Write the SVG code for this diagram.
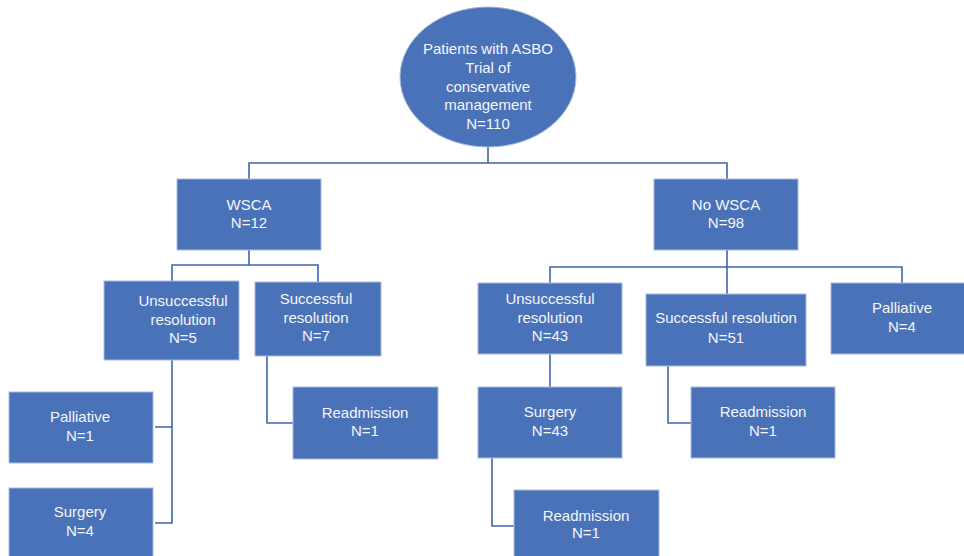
<svg xmlns="http://www.w3.org/2000/svg" width="964" height="556" viewBox="0 0 964 556">
<style>
.box{fill:#4A72B8;stroke:#A9BCE0;stroke-width:1}
.t{font-family:"Liberation Sans",Arial,sans-serif;font-size:15px;fill:#F4F6FB;text-anchor:middle}
.c{fill:none;stroke:#3F65AE;stroke-width:1.6}
</style>
<rect width="964" height="556" fill="#FFFFFF"/>
<g id="connectors">
<path class="c" d="M488,147 V163 M249,179 V163 H727 V179"/>
<path class="c" d="M249,250 V265 M172,281 V265 H318 V282"/>
<path class="c" d="M172,360 V523 H155 M172,427 H155"/>
<path class="c" d="M267,356 V423 H293"/>
<path class="c" d="M727,250 V294 M550,283 V267 H902 V283"/>
<path class="c" d="M550,354 V387"/>
<path class="c" d="M492,458 V526 H514"/>
<path class="c" d="M668,366 V423 H691"/>
</g>
<g id="root">
<ellipse class="box" cx="488" cy="77" rx="88" ry="70"/>
<text class="t" x="488" y="54">Patients with ASBO</text>
<text class="t" x="488" y="73">Trial of</text>
<text class="t" x="488" y="91.5">conservative</text>
<text class="t" x="488" y="110">management</text>
<text class="t" x="488" y="128.5">N=110</text>
</g>
<g id="wsca">
<rect class="box" x="177" y="179" width="144" height="71"/>
<text class="t" x="249" y="210">WSCA</text>
<text class="t" x="249" y="228">N=12</text>
</g>
<g id="nowsca">
<rect class="box" x="654" y="179" width="144" height="71"/>
<text class="t" x="726" y="210">No WSCA</text>
<text class="t" x="726" y="228">N=98</text>
</g>
<g id="unsucc5">
<rect class="box" x="104" y="281" width="135" height="79"/>
<text class="t" x="183" y="306">Unsuccessful</text>
<text class="t" x="183" y="324.5">resolution</text>
<text class="t" x="183" y="343">N=5</text>
</g>
<g id="succ7">
<rect class="box" x="255" y="282" width="126" height="74"/>
<text class="t" x="316" y="304">Successful</text>
<text class="t" x="316" y="323">resolution</text>
<text class="t" x="316" y="341">N=7</text>
</g>
<g id="pall1">
<rect class="box" x="9" y="392" width="144" height="71"/>
<text class="t" x="80" y="422">Palliative</text>
<text class="t" x="80" y="441">N=1</text>
</g>
<g id="surg4">
<rect class="box" x="9" y="488" width="144" height="72"/>
<text class="t" x="80" y="517">Surgery</text>
<text class="t" x="80" y="536">N=4</text>
</g>
<g id="readm1">
<rect class="box" x="293" y="387" width="145" height="72"/>
<text class="t" x="365" y="418">Readmission</text>
<text class="t" x="365" y="436">N=1</text>
</g>
<g id="unsucc43">
<rect class="box" x="478" y="283" width="144" height="71"/>
<text class="t" x="550" y="304">Unsuccessful</text>
<text class="t" x="550" y="323">resolution</text>
<text class="t" x="550" y="341">N=43</text>
</g>
<g id="succ51">
<rect class="box" x="646" y="294" width="160" height="72"/>
<text class="t" x="726" y="323">Successful resolution</text>
<text class="t" x="726" y="343">N=51</text>
</g>
<g id="pall4">
<rect class="box" x="831" y="283" width="140" height="71"/>
<text class="t" x="902" y="313">Palliative</text>
<text class="t" x="902" y="332">N=4</text>
</g>
<g id="surg43">
<rect class="box" x="478" y="387" width="144" height="71"/>
<text class="t" x="550" y="417">Surgery</text>
<text class="t" x="550" y="436">N=43</text>
</g>
<g id="readm2">
<rect class="box" x="691" y="387" width="144" height="71"/>
<text class="t" x="763" y="417">Readmission</text>
<text class="t" x="763" y="436">N=1</text>
</g>
<g id="readm3">
<rect class="box" x="514" y="490" width="145" height="70"/>
<text class="t" x="586" y="521">Readmission</text>
<text class="t" x="586" y="538">N=1</text>
</g>
</svg>
